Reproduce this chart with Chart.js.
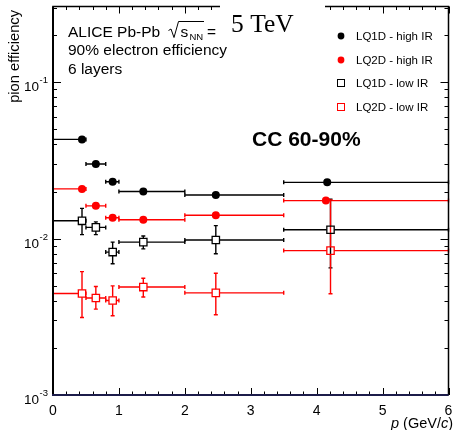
<!DOCTYPE html>
<html>
<head>
<meta charset="utf-8">
<script src="https://cdn.jsdelivr.net/npm/chart.js@4.4.1/dist/chart.umd.min.js"></script>
<style>
  html, body { margin: 0; padding: 0; background: #fff; }
  #wrap { position: relative; width: 455px; height: 430px; }
</style>
</head>
<body>
<div id="wrap"><canvas id="c" width="455" height="430"></canvas></div>
<script>
// Momentum bins (GeV/c)
const binLow  = [0.0, 0.5, 0.8, 1.0, 2.0, 3.5];
const binHigh = [0.5, 0.8, 1.0, 2.0, 3.5, 6.0];

// LQ1D, high interaction rate
const pLQ1DHigh   = [0.44, 0.65, 0.905, 1.37, 2.47, 4.16];
const effLQ1DHigh = [0.0431, 0.0300, 0.0231, 0.0200, 0.0190, 0.0229];

// LQ2D, high interaction rate
const pLQ2DHigh   = [0.44, 0.65, 0.905, 1.37, 2.47, 4.14];
const effLQ2DHigh = [0.0208, 0.0162, 0.0136, 0.0132, 0.0141, 0.0175];

// LQ1D, low interaction rate (with lower / upper error limits)
const pLQ1DLow    = [0.44, 0.65, 0.905, 1.37, 2.47, 4.21];
const effLQ1DLow  = [0.0130, 0.0118, 0.0082, 0.0095, 0.0098, 0.0114];
const loLQ1DLow   = [0.0106, 0.0106, 0.0069, 0.0086, 0.0080, 0.0065];
const hiLQ1DLow   = [0.0156, 0.0128, 0.0095, 0.0104, 0.0121, 0.0179];

// LQ2D, low interaction rate (with lower / upper error limits)
const pLQ2DLow    = [0.44, 0.65, 0.905, 1.37, 2.47, 4.21];
const effLQ2DLow  = [0.00446, 0.00417, 0.00402, 0.0049, 0.0045, 0.00838];
const loLQ2DLow   = [0.00313, 0.00354, 0.00321, 0.00423, 0.00326, 0.00444];
const hiLQ2DLow   = [0.00615, 0.00494, 0.00499, 0.00558, 0.00601, 0.0177];

// Axis tick labels
const xTickValues = [0, 1, 2, 3, 4, 5, 6];
const yTickValues = [0.001, 0.01, 0.1];
const yTickExponents = ['-3', '-2', '-1'];

const seriesNames = ['LQ1D - high IR', 'LQ2D - high IR', 'LQ1D - low IR', 'LQ2D - low IR'];

const FONT = '"Liberation Sans", Arial, Helvetica, sans-serif';
const RED = '#ff0000';
const BLACK = '#000000';

function toPoints(xs, ys, los, his) {
  return xs.map((x, i) => ({
    x: x, y: ys[i],
    xMin: binLow[i], xMax: binHigh[i],
    yMin: los ? los[i] : null, yMax: his ? his[i] : null
  }));
}

const datasets = [
  { label: seriesNames[0], data: toPoints(pLQ1DHigh, effLQ1DHigh), pointStyle: 'circle',
    pointRadius: 4, backgroundColor: BLACK, borderColor: BLACK, borderWidth: 0, open: false },
  { label: seriesNames[1], data: toPoints(pLQ2DHigh, effLQ2DHigh), pointStyle: 'circle',
    pointRadius: 4, backgroundColor: RED, borderColor: RED, borderWidth: 0, open: false },
  { label: seriesNames[2], data: toPoints(pLQ1DLow, effLQ1DLow, loLQ1DLow, hiLQ1DLow), pointStyle: 'rect',
    pointRadius: 5.2, backgroundColor: 'rgba(0,0,0,0)', borderColor: BLACK, borderWidth: 1.3, open: true },
  { label: seriesNames[3], data: toPoints(pLQ2DLow, effLQ2DLow, loLQ2DLow, hiLQ2DLow), pointStyle: 'rect',
    pointRadius: 5.2, backgroundColor: 'rgba(0,0,0,0)', borderColor: RED, borderWidth: 1.3, open: true }
];

// Error bars (ROOT style: bars stop at open markers, short end caps)
const errorBars = {
  id: 'errorBars',
  beforeDatasetsDraw(chart) {
    const ctx = chart.ctx;
    const xs = chart.scales.x, ys = chart.scales.y;
    ctx.save();
    ctx.lineWidth = 1.4;
    chart.data.datasets.forEach(ds => {
      ctx.strokeStyle = ds.borderColor;
      const gap = ds.open ? 3.7 : 0;
      const cap = 2;
      ds.data.forEach(d => {
        const px = xs.getPixelForValue(d.x);
        const py = ys.getPixelForValue(d.y);
        const x0 = xs.getPixelForValue(d.xMin);
        const x1 = xs.getPixelForValue(d.xMax);
        ctx.beginPath();
        if (px - gap > x0) { ctx.moveTo(x0, py); ctx.lineTo(px - gap, py); }
        if (px + gap < x1) { ctx.moveTo(px + gap, py); ctx.lineTo(x1, py); }
        ctx.moveTo(x0, py - cap); ctx.lineTo(x0, py + cap);
        ctx.moveTo(x1, py - cap); ctx.lineTo(x1, py + cap);
        if (d.yMin !== null) {
          const y0 = ys.getPixelForValue(d.yMin);
          const y1 = ys.getPixelForValue(d.yMax);
          ctx.moveTo(px, py + gap); ctx.lineTo(px, y0);
          ctx.moveTo(px, py - gap); ctx.lineTo(px, y1);
          ctx.moveTo(px - cap, y0); ctx.lineTo(px + cap, y0);
          ctx.moveTo(px - cap, y1); ctx.lineTo(px + cap, y1);
        }
        ctx.stroke();
      });
    });
    ctx.restore();
  }
};

// Frame, inward ticks, tick labels, legend and annotations
const decorations = {
  id: 'decorations',
  afterDraw(chart) {
    const ctx = chart.ctx;
    const a = chart.chartArea;
    const xs = chart.scales.x, ys = chart.scales.y;
    ctx.save();

    // ticks
    ctx.strokeStyle = BLACK;
    ctx.lineWidth = 1;
    ctx.beginPath();
    for (let v = xs.min; v <= xs.max + 1e-9; v += 0.2) {
      const px = Math.round(xs.getPixelForValue(v)) + 0.5;
      const major = Math.abs(v - Math.round(v)) < 1e-6;
      const len = major ? 7 : 3.5;
      ctx.moveTo(px, a.bottom); ctx.lineTo(px, a.bottom - len);
      ctx.moveTo(px, a.top); ctx.lineTo(px, a.top + len);
    }
    for (let e = -3; e <= -1; e++) {
      for (let m = 1; m <= 9; m++) {
        const v = m * Math.pow(10, e);
        if (v > ys.max * 1.0001) continue;
        const py = Math.round(ys.getPixelForValue(v)) + 0.5;
        const len = m === 1 ? 8 : 4;
        ctx.moveTo(a.left, py); ctx.lineTo(a.left + len, py);
        ctx.moveTo(a.right, py); ctx.lineTo(a.right - len, py);
      }
    }
    ctx.stroke();

    // frame
    ctx.lineWidth = 1.5;
    ctx.beginPath();
    ctx.moveTo(a.left, a.bottom); ctx.lineTo(a.left, a.top);
    ctx.lineTo(a.right, a.top); ctx.lineTo(a.right, a.bottom);
    ctx.stroke();
    ctx.lineWidth = 2;
    ctx.beginPath();
    ctx.moveTo(a.left, a.bottom); ctx.lineTo(a.left, a.top);
    ctx.stroke();
    ctx.strokeStyle = '#1c1c4a';
    ctx.beginPath();
    ctx.moveTo(a.left - 1, a.bottom); ctx.lineTo(a.right, a.bottom);
    ctx.stroke();

    // x tick labels
    ctx.fillStyle = BLACK;
    ctx.font = '14px ' + FONT;
    ctx.textAlign = 'center';
    ctx.textBaseline = 'alphabetic';
    xTickValues.forEach(v => {
      ctx.fillText(String(v), xs.getPixelForValue(v), 415);
    });

    // y tick labels 10^n
    yTickValues.forEach((v, i) => {
      const py = ys.getPixelForValue(v);
      ctx.font = '13.5px ' + FONT;
      ctx.textAlign = 'right';
      ctx.fillText('10', 39, py + 9);
      ctx.font = '9.5px ' + FONT;
      ctx.textAlign = 'left';
      ctx.fillText(yTickExponents[i], 39.5, py + 1);
    });

    // y axis title
    ctx.save();
    ctx.translate(19, 10);
    ctx.rotate(-Math.PI / 2);
    ctx.font = '14.7px ' + FONT;
    ctx.textAlign = 'right';
    ctx.fillText('pion efficiency', 0, 0);
    ctx.restore();

    // x axis title: p (GeV/c)
    const parts = [
      { t: 'p', f: 'italic 14.5px ' + FONT },
      { t: ' (GeV/', f: '14.5px ' + FONT },
      { t: 'c', f: 'italic 14.5px ' + FONT },
      { t: ')', f: '14.5px ' + FONT }
    ];
    let total = 0;
    parts.forEach(p => { ctx.font = p.f; p.w = ctx.measureText(p.t).width; total += p.w; });
    let cx = 453 - total;
    ctx.textAlign = 'left';
    parts.forEach(p => { ctx.font = p.f; ctx.fillText(p.t, cx, 428); cx += p.w; });

    // header text
    ctx.font = '15.5px ' + FONT;
    ctx.fillText('ALICE Pb-Pb', 68, 37);
    ctx.fillText('90% electron efficiency', 68, 55);
    ctx.fillText('6 layers', 68, 74);
    // sqrt(s_NN) =
    ctx.lineWidth = 1;
    ctx.strokeStyle = BLACK;
    ctx.beginPath();
    ctx.moveTo(168.5, 30.5); ctx.lineTo(171, 29);
    ctx.lineTo(174, 37.5); ctx.lineTo(178.5, 21.5); ctx.lineTo(204, 21.5);
    ctx.stroke();
    ctx.fillText('s', 180.5, 37);
    ctx.font = '9.5px ' + FONT;
    ctx.fillText('NN', 189.5, 40);
    ctx.font = '15.5px ' + FONT;
    ctx.fillText('=', 207, 37);

    // white label box with energy
    ctx.fillStyle = '#ffffff';
    ctx.fillRect(220, 0, 105, 42);
    ctx.fillStyle = BLACK;
    ctx.font = '25.5px "Liberation Serif", "Times New Roman", serif';
    ctx.fillText('5 TeV', 231, 32);

    // centrality label
    ctx.font = 'bold 21px ' + FONT;
    ctx.fillText('CC 60-90%', 252, 145.5);

    // legend
    const rows = [36, 60, 83, 107];
    ctx.font = '11.5px ' + FONT;
    ctx.textBaseline = 'middle';
    chart.data.datasets.forEach((ds, i) => {
      const y = rows[i];
      if (ds.open) {
        ctx.strokeStyle = ds.borderColor;
        ctx.lineWidth = 1;
        ctx.strokeRect(337.5, y - 3.5, 7, 7);
      } else {
        ctx.fillStyle = ds.backgroundColor;
        ctx.beginPath();
        ctx.arc(341, y, 3.4, 0, Math.PI * 2);
        ctx.fill();
      }
      ctx.fillStyle = BLACK;
      ctx.fillText(ds.label, 356, y + 0.5);
    });

    ctx.restore();
  }
};

new Chart(document.getElementById('c').getContext('2d'), {
  type: 'scatter',
  data: { datasets: datasets },
  options: {
    responsive: false,
    animation: false,
    layout: { padding: { left: 53, right: 5, top: 6, bottom: 35 } },
    plugins: { legend: { display: false }, tooltip: { enabled: false } },
    scales: {
      x: { type: 'linear', min: 0, max: 6, display: false },
      y: { type: 'logarithmic', min: 0.001, max: 0.305, display: false }
    }
  },
  plugins: [errorBars, decorations]
});
</script>
</body>
</html>
